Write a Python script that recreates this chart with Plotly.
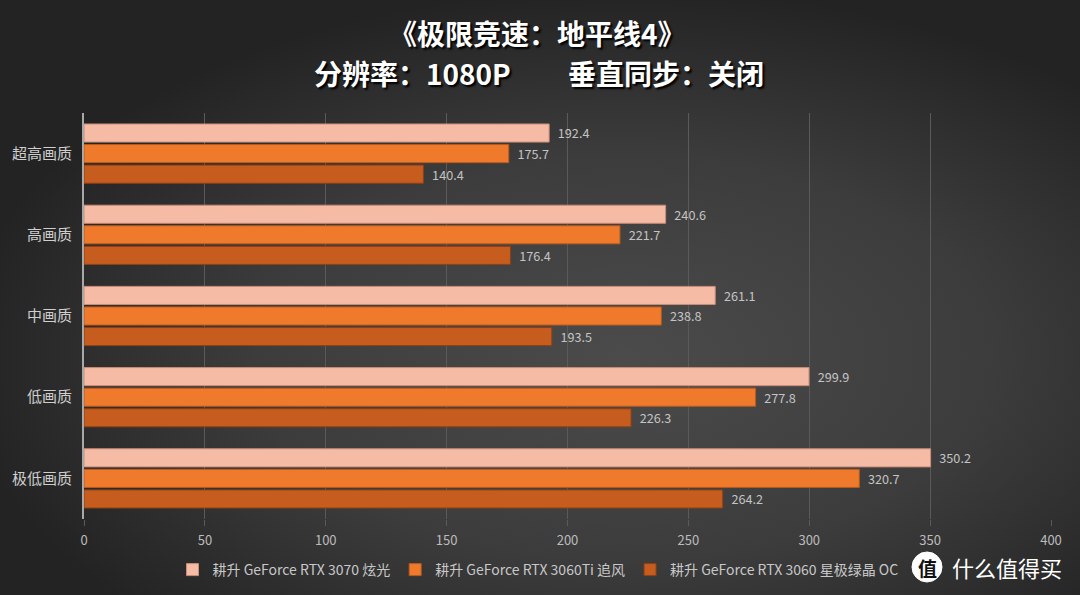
import base64
import plotly.graph_objects as go

categories = ["超高画质", "高画质", "中画质", "低画质", "极低画质"]
series_names = ["耕升 GeForce RTX 3070 炫光", "耕升 GeForce RTX 3060Ti 追风", "耕升 GeForce RTX 3060 星极绿晶 OC"]
rtx3070 = [192.4, 240.6, 261.1, 299.9, 350.2]
rtx3060ti = [175.7, 221.7, 238.8, 277.8, 320.7]
rtx3060 = [140.4, 176.4, 193.5, 226.3, 264.2]
x_ticks = [0, 50, 100, 150, 200, 250, 300, 350, 400]

colors = ["#F5BBA4", "#F07A2C", "#C65C1E"]
edge = ["#C98C78", "#B85A1E", "#8E4014"]

W, H = 1080, 595
L, R, T, B = 84, 29, 113, 76
pw, ph = W - L - R, H - T - B

def px(x):
    return (x - L) / pw

def py(y):
    return (H - B - y) / ph

svg = f'''<svg xmlns="http://www.w3.org/2000/svg" width="{W}" height="{H}" viewBox="0 0 {W} {H}" preserveAspectRatio="none">
<defs><radialGradient id="g" cx="58%" cy="60%" r="62%">
<stop offset="0%" stop-color="#4b4b4b"/><stop offset="55%" stop-color="#3c3c3c"/><stop offset="100%" stop-color="#232323"/>
</radialGradient></defs><rect width="{W}" height="{H}" fill="url(#g)"/></svg>'''
bg_src = "data:image/svg+xml;base64," + base64.b64encode(svg.encode()).decode()

fig = go.Figure()
for name, vals, c, e in zip(series_names, [rtx3070, rtx3060ti, rtx3060], colors, edge):
    fig.add_trace(go.Bar(
        y=categories, x=vals, name=name, orientation="h",
        marker=dict(color=c, line=dict(color=e, width=1)),
        text=[f"&nbsp;&nbsp;{v:.1f}" for v in vals], textposition="outside",
        textfont=dict(size=14, color="#c4c4c4", family="Noto Sans CJK SC"),
        cliponaxis=False, hoverinfo="skip",
    ))

fig.update_layout(
    width=W, height=H,
    margin=dict(l=L, r=R, t=T, b=B, autoexpand=False),
    paper_bgcolor="#333333", plot_bgcolor="rgba(0,0,0,0)",
    barmode="group", bargap=0.24, bargroupgap=0.12,
    font=dict(family="Noto Sans CJK SC", color="#c8c8c8"),
    images=[dict(source=bg_src, xref="paper", yref="paper",
                 x=px(0), y=py(0), sizex=W / pw, sizey=H / ph,
                 xanchor="left", yanchor="top", sizing="stretch", layer="below")],
    xaxis=dict(range=[0, 400], tickvals=x_ticks, showgrid=True, gridcolor="#5a5a5a",
               gridwidth=1, zeroline=False, showline=False, automargin=False,
               ticks="outside", ticklen=6, tickcolor="#5a5a5a", ticklabelstandoff=3,
               tickfont=dict(size=13, color="#bcbcbc")),
    yaxis=dict(autorange="reversed", showline=True, linecolor="#a8a8a8", linewidth=2,
               automargin=False,
               ticks="", ticklabelstandoff=7, tickfont=dict(size=15, color="#cfcfcf")),
    legend=dict(orientation="h", x=px(538), y=py(570), xanchor="center", yanchor="middle",
                font=dict(size=14, color="#c8c8c8"), itemwidth=30, traceorder="normal",
                bgcolor="rgba(0,0,0,0)"),
    showlegend=True,
)

title_font = dict(size=28, color="#ffffff", family="Noto Sans CJK SC", weight="bold",
                  shadow="2px 2px 2px #000000")
fig.add_annotation(text="《极限竞速：地平线4》", xref="paper", yref="paper",
                   x=px(537), y=py(33), xanchor="center", yanchor="middle",
                   showarrow=False, font=title_font)
fig.add_annotation(text="分辨率：1080P" + "&nbsp;" * 9 + "垂直同步：关闭", xref="paper", yref="paper",
                   x=px(539), y=py(73), xanchor="center", yanchor="middle",
                   showarrow=False, font=title_font)

# watermark
fig.add_shape(type="circle", xref="paper", yref="paper",
              x0=px(912), x1=px(942), y0=py(582), y1=py(552),
              fillcolor="#ffffff", line=dict(color="#ffffff", width=1))
fig.add_annotation(text="值", xref="paper", yref="paper", x=px(927), y=py(567),
                   xanchor="center", yanchor="middle", showarrow=False,
                   font=dict(size=19, color="#111111", family="Noto Sans CJK SC", weight="bold"))
fig.add_annotation(text="什么值得买", xref="paper", yref="paper", x=px(950), y=py(567),
                   xanchor="left", yanchor="middle", showarrow=False,
                   font=dict(size=22, color="#ffffff", family="Noto Sans CJK SC"))

fig.write_html("out.html", config={"displayModeBar": False},
               post_script="document.body.style.margin='0';document.body.style.background='#232323';")
